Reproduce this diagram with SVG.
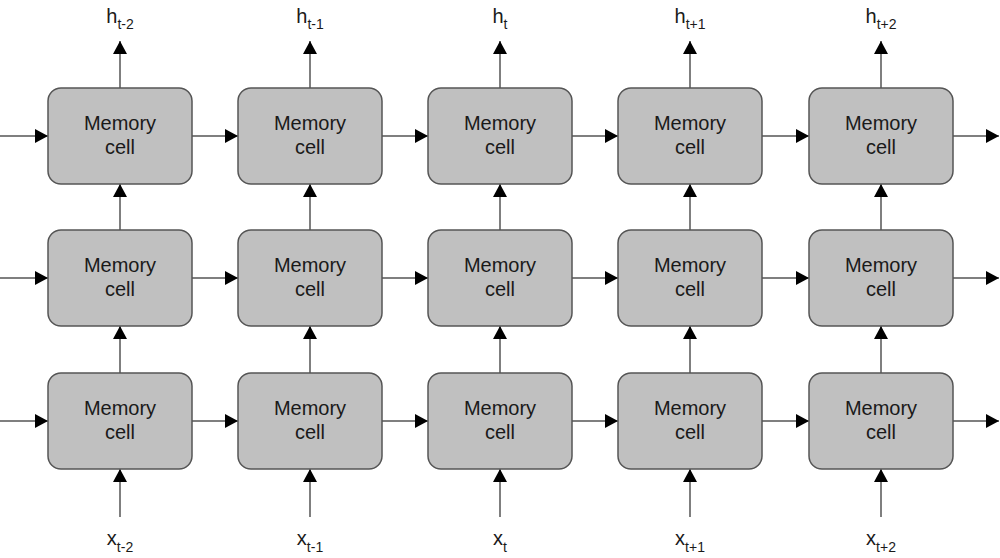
<svg xmlns="http://www.w3.org/2000/svg" width="1000" height="558" viewBox="0 0 1000 558">
<style>
.box{fill:#c0c0c0;stroke:#555;stroke-width:1.5}
.t{font-family:"Liberation Sans",Arial,sans-serif;font-size:20px;fill:#1a1a1a;text-anchor:middle}
.s{font-size:14px}
.c{stroke:#555;stroke-width:1.5;fill:none;marker-end:url(#a)}
</style>
<defs>
<marker id="a" markerUnits="userSpaceOnUse" markerWidth="14" markerHeight="14" refX="13" refY="7" orient="auto">
<path d="M0,0 L13,7 L0,14 z" fill="#000"/>
</marker>
</defs>
<rect width="1000" height="558" fill="#fff"/>
<g id="connectors">
<!-- horizontal -->
<path class="c" d="M0,136 H48"/><path class="c" d="M192,136 H238"/><path class="c" d="M382,136 H428"/><path class="c" d="M572,136 H618"/><path class="c" d="M762,136 H809"/><path class="c" d="M953,136 H999"/>
<path class="c" d="M0,278 H48"/><path class="c" d="M192,278 H238"/><path class="c" d="M382,278 H428"/><path class="c" d="M572,278 H618"/><path class="c" d="M762,278 H809"/><path class="c" d="M953,278 H999"/>
<path class="c" d="M0,421 H48"/><path class="c" d="M192,421 H238"/><path class="c" d="M382,421 H428"/><path class="c" d="M572,421 H618"/><path class="c" d="M762,421 H809"/><path class="c" d="M953,421 H999"/>
<!-- vertical -->
<path class="c" d="M120,88 V41"/><path class="c" d="M310,88 V41"/><path class="c" d="M500,88 V41"/><path class="c" d="M690,88 V41"/><path class="c" d="M881,88 V41"/>
<path class="c" d="M120,230 V184"/><path class="c" d="M310,230 V184"/><path class="c" d="M500,230 V184"/><path class="c" d="M690,230 V184"/><path class="c" d="M881,230 V184"/>
<path class="c" d="M120,373 V326"/><path class="c" d="M310,373 V326"/><path class="c" d="M500,373 V326"/><path class="c" d="M690,373 V326"/><path class="c" d="M881,373 V326"/>
<path class="c" d="M120,517 V469"/><path class="c" d="M310,517 V469"/><path class="c" d="M500,517 V469"/><path class="c" d="M690,517 V469"/><path class="c" d="M881,517 V469"/>
</g>
<g id="cell-1-1"><rect class="box" x="48" y="88" width="144" height="96" rx="13"/><text class="t" x="120" y="130">Memory</text><text class="t" x="120" y="154">cell</text></g>
<g id="cell-1-2"><rect class="box" x="238" y="88" width="144" height="96" rx="13"/><text class="t" x="310" y="130">Memory</text><text class="t" x="310" y="154">cell</text></g>
<g id="cell-1-3"><rect class="box" x="428" y="88" width="144" height="96" rx="13"/><text class="t" x="500" y="130">Memory</text><text class="t" x="500" y="154">cell</text></g>
<g id="cell-1-4"><rect class="box" x="618" y="88" width="144" height="96" rx="13"/><text class="t" x="690" y="130">Memory</text><text class="t" x="690" y="154">cell</text></g>
<g id="cell-1-5"><rect class="box" x="809" y="88" width="144" height="96" rx="13"/><text class="t" x="881" y="130">Memory</text><text class="t" x="881" y="154">cell</text></g>
<g id="cell-2-1"><rect class="box" x="48" y="230" width="144" height="96" rx="13"/><text class="t" x="120" y="272">Memory</text><text class="t" x="120" y="296">cell</text></g>
<g id="cell-2-2"><rect class="box" x="238" y="230" width="144" height="96" rx="13"/><text class="t" x="310" y="272">Memory</text><text class="t" x="310" y="296">cell</text></g>
<g id="cell-2-3"><rect class="box" x="428" y="230" width="144" height="96" rx="13"/><text class="t" x="500" y="272">Memory</text><text class="t" x="500" y="296">cell</text></g>
<g id="cell-2-4"><rect class="box" x="618" y="230" width="144" height="96" rx="13"/><text class="t" x="690" y="272">Memory</text><text class="t" x="690" y="296">cell</text></g>
<g id="cell-2-5"><rect class="box" x="809" y="230" width="144" height="96" rx="13"/><text class="t" x="881" y="272">Memory</text><text class="t" x="881" y="296">cell</text></g>
<g id="cell-3-1"><rect class="box" x="48" y="373" width="144" height="96" rx="13"/><text class="t" x="120" y="415">Memory</text><text class="t" x="120" y="439">cell</text></g>
<g id="cell-3-2"><rect class="box" x="238" y="373" width="144" height="96" rx="13"/><text class="t" x="310" y="415">Memory</text><text class="t" x="310" y="439">cell</text></g>
<g id="cell-3-3"><rect class="box" x="428" y="373" width="144" height="96" rx="13"/><text class="t" x="500" y="415">Memory</text><text class="t" x="500" y="439">cell</text></g>
<g id="cell-3-4"><rect class="box" x="618" y="373" width="144" height="96" rx="13"/><text class="t" x="690" y="415">Memory</text><text class="t" x="690" y="439">cell</text></g>
<g id="cell-3-5"><rect class="box" x="809" y="373" width="144" height="96" rx="13"/><text class="t" x="881" y="415">Memory</text><text class="t" x="881" y="439">cell</text></g>
<g id="outputs">
<text class="t" x="120" y="23">h<tspan class="s" dy="6">t-2</tspan></text>
<text class="t" x="310" y="23">h<tspan class="s" dy="6">t-1</tspan></text>
<text class="t" x="500" y="23">h<tspan class="s" dy="6">t</tspan></text>
<text class="t" x="690" y="23">h<tspan class="s" dy="6">t+1</tspan></text>
<text class="t" x="881" y="23">h<tspan class="s" dy="6">t+2</tspan></text>
</g>
<g id="inputs">
<text class="t" x="120" y="545">x<tspan class="s" dy="7">t-2</tspan></text>
<text class="t" x="310" y="545">x<tspan class="s" dy="7">t-1</tspan></text>
<text class="t" x="500" y="545">x<tspan class="s" dy="7">t</tspan></text>
<text class="t" x="690" y="545">x<tspan class="s" dy="7">t+1</tspan></text>
<text class="t" x="881" y="545">x<tspan class="s" dy="7">t+2</tspan></text>
</g>
</svg>
